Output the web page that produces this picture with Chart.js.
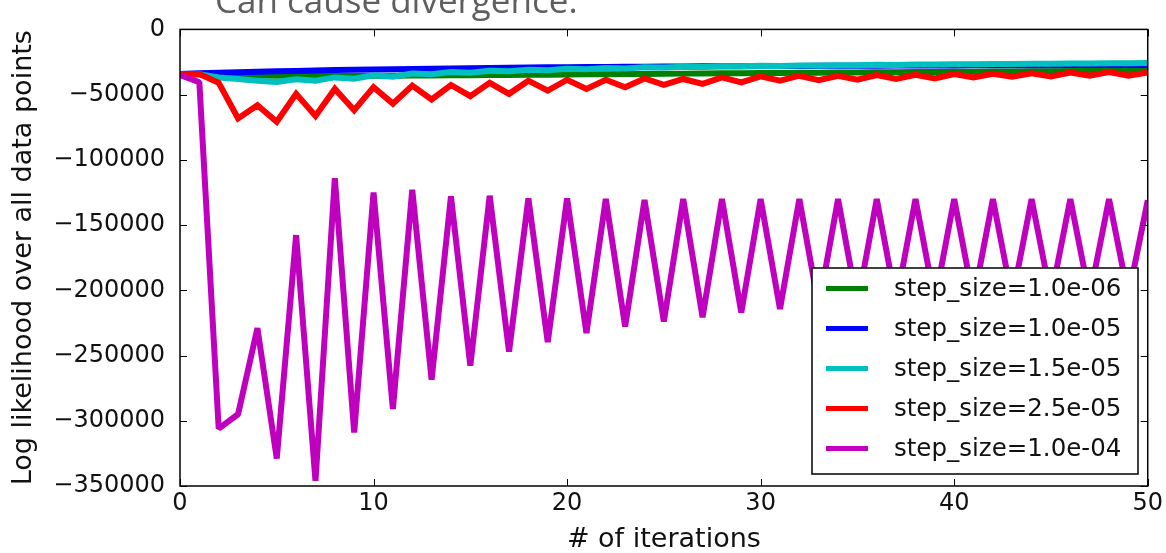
<!DOCTYPE html>
<html>
<head>
<meta charset="utf-8">
<script src="https://cdn.jsdelivr.net/npm/chart.js@4/dist/chart.umd.min.js"></script>
<style>
  html, body { margin: 0; padding: 0; background: #fff; }
  canvas { display: block; }
</style>
</head>
<body>
<canvas id="c" width="1166" height="553"></canvas>
<script>
const iterations = [0,1,2,3,4,5,6,7,8,9,10,11,12,13,14,15,16,17,18,19,20,21,22,23,24,25,26,27,28,29,30,31,32,33,34,35,36,37,38,39,40,41,42,43,44,45,46,47,48,49,50];

const seriesLabels = ['step_size=1.0e-06','step_size=1.0e-05','step_size=1.5e-05','step_size=2.5e-05','step_size=1.0e-04'];
const seriesColors = ['#008000','#0000ff','#00bfbf','#ff0000','#bf00bf'];

const ll_1e06 = [-34250,-34500,-34800,-35100,-35300,-35500,-35600,-35700,-35700,-35700,-35600,-35500,-35400,-35300,-35200,-35100,-35000,-34900,-34800,-34700,-34500,-34400,-34300,-34200,-34100,-34000,-33900,-33800,-33700,-33600,-33500,-33400,-33300,-33200,-33100,-33000,-32900,-32800,-32700,-32600,-32500,-32400,-32300,-32200,-32100,-32000,-31900,-31800,-31700,-31600,-31500];

const ll_1e05 = [-34250,-33700,-33200,-32800,-32400,-32100,-31800,-31500,-31200,-31000,-30700,-30500,-30300,-30100,-29900,-29700,-29600,-29400,-29300,-29100,-29000,-28900,-28800,-28700,-28600,-28500,-28400,-28300,-28300,-28200,-28100,-28100,-28000,-27900,-27900,-27800,-27800,-27700,-27700,-27600,-27600,-27500,-27500,-27500,-27400,-27400,-27300,-27300,-27300,-27200,-27200];

const ll_15e05 = [-34250,-34300,-36800,-38000,-39300,-40300,-38300,-39300,-36800,-37800,-35200,-36200,-33800,-34300,-32700,-33200,-31700,-32100,-30900,-31300,-30200,-30500,-29600,-29900,-29000,-29200,-28600,-28800,-28200,-28300,-27900,-28000,-27600,-27700,-27400,-27400,-27100,-27200,-26900,-26900,-26700,-26700,-26500,-26500,-26300,-26300,-26100,-26100,-25900,-25900,-25700];

const ll_25e05 = [-34250,-34250,-41000,-68300,-58200,-70800,-49400,-66300,-45600,-62000,-44300,-56900,-43100,-53700,-42600,-51200,-41000,-49400,-39300,-46900,-38600,-45600,-38600,-44300,-37600,-42500,-38000,-41800,-36800,-40600,-36000,-39300,-35500,-38900,-35500,-38600,-35000,-38000,-34800,-37600,-34300,-36800,-34000,-36300,-33700,-36000,-33000,-35500,-32700,-35500,-33000];

const ll_1e04 = [-35000,-40500,-306000,-295000,-229000,-329000,-157700,-346000,-114000,-309000,-125000,-291000,-123000,-268600,-128000,-257800,-127500,-247000,-129500,-239600,-129500,-232800,-130000,-227800,-130800,-224000,-130000,-220700,-130000,-217000,-130000,-214400,-130000,-212500,-130000,-211000,-130000,-209500,-130000,-208500,-130000,-207500,-130000,-206500,-130000,-205500,-130000,-205000,-130000,-204500,-131000];

const yTicks = [0,-50000,-100000,-150000,-200000,-250000,-300000,-350000];
const xTicks = [0,10,20,30,40,50];

const seriesValues = [ll_1e06, ll_1e05, ll_15e05, ll_25e05, ll_1e04];

const FONT = "'DejaVu Sans', sans-serif";

const datasets = seriesValues.map((vals, k) => ({
  label: seriesLabels[k],
  data: vals.map((v, i) => ({ x: iterations[i], y: v })),
  borderColor: seriesColors[k],
  backgroundColor: seriesColors[k],
  borderWidth: 6,
  borderJoinStyle: k === 4 ? 'bevel' : 'miter',
  pointRadius: 0,
  tension: 0,
  fill: false,
  order: seriesValues.length - k
}));

const framePlugin = {
  id: 'frame',
  beforeDraw(chart) {
    const ctx = chart.ctx;
    ctx.save();
    ctx.fillStyle = '#5f5f5f';
    ctx.font = "35px 'Open Sans', sans-serif";
    ctx.textBaseline = 'alphabetic';
    ctx.textAlign = 'left';
    ctx.fillText('Can cause divergence.', 215, 13);
    ctx.restore();
  },
  afterDatasetsDraw(chart) {
    const ctx = chart.ctx;
    const a = chart.chartArea;
    const xs = chart.scales.x, ys = chart.scales.y;
    ctx.save();
    // legend
    const lx = 812, ly = 268, lw = 326, lh = 206;
    ctx.fillStyle = '#ffffff';
    ctx.fillRect(lx, ly, lw, lh);
    ctx.strokeStyle = '#000';
    ctx.lineWidth = 1.5;
    ctx.strokeRect(lx, ly, lw, lh);
    chart.data.datasets.forEach((ds, k) => {
      const cy = 288.5 + k * 40;
      ctx.strokeStyle = ds.borderColor;
      ctx.lineWidth = 5;
      ctx.lineCap = 'butt';
      ctx.beginPath();
      ctx.moveTo(826, cy);
      ctx.lineTo(868, cy);
      ctx.stroke();
      ctx.fillStyle = '#111';
      ctx.font = "24.5px " + FONT;
      ctx.textBaseline = 'middle';
      ctx.textAlign = 'left';
      ctx.fillText(ds.label, 894, cy + 1);
    });
    // frame
    ctx.strokeStyle = '#000';
    ctx.lineWidth = 1.5;
    ctx.strokeRect(a.left, a.top, a.right - a.left, a.bottom - a.top);
    // inward ticks
    ctx.lineWidth = 1;
    const tl = 7;
    xs.ticks.forEach(t => {
      const px = Math.round(xs.getPixelForValue(t.value)) + 0.5;
      ctx.beginPath();
      ctx.moveTo(px, a.bottom); ctx.lineTo(px, a.bottom - tl);
      ctx.moveTo(px, a.top); ctx.lineTo(px, a.top + tl);
      ctx.stroke();
    });
    ys.ticks.forEach(t => {
      const py = Math.round(ys.getPixelForValue(t.value)) + 0.5;
      ctx.beginPath();
      ctx.moveTo(a.left, py); ctx.lineTo(a.left + tl, py);
      ctx.moveTo(a.right, py); ctx.lineTo(a.right - tl, py);
      ctx.stroke();
    });
    ctx.restore();
  }
};

new Chart(document.getElementById('c'), {
  type: 'line',
  data: { datasets },
  options: {
    responsive: false,
    animation: false,
    devicePixelRatio: 1,
    layout: { padding: { top: 23, right: 18, left: 0, bottom: 0 } },
    plugins: { legend: { display: false }, tooltip: { enabled: false } },
    scales: {
      x: {
        type: 'linear',
        min: 0, max: 50,
        afterFit(s) { s.height = 67; },
        afterBuildTicks(s) { s.ticks = xTicks.map(v => ({ value: v })); },
        grid: { display: false, drawTicks: false },
        border: { display: false },
        ticks: { color: '#111', font: { family: FONT, size: 24 }, padding: 3, maxRotation: 0 },
        title: { display: true, text: '# of iterations', color: '#111', font: { family: FONT, size: 27, lineHeight: 1 }, padding: 0 }
      },
      y: {
        type: 'linear',
        min: -350000, max: 0,
        afterFit(s) { s.width = 180; },
        afterBuildTicks(s) { s.ticks = yTicks.map(v => ({ value: v })); },
        grid: { display: false, drawTicks: false },
        border: { display: false },
        ticks: {
          color: '#111', font: { family: FONT, size: 24 }, padding: 15,
          callback: v => v === 0 ? '0' : '\u2212' + Math.abs(v)
        },
        title: { display: true, text: 'Log likelihood over all data points', color: '#111', font: { family: FONT, size: 27, lineHeight: 1 }, padding: { top: 10, bottom: 0 } }
      }
    }
  },
  plugins: [framePlugin]
});
</script>
</body>
</html>
